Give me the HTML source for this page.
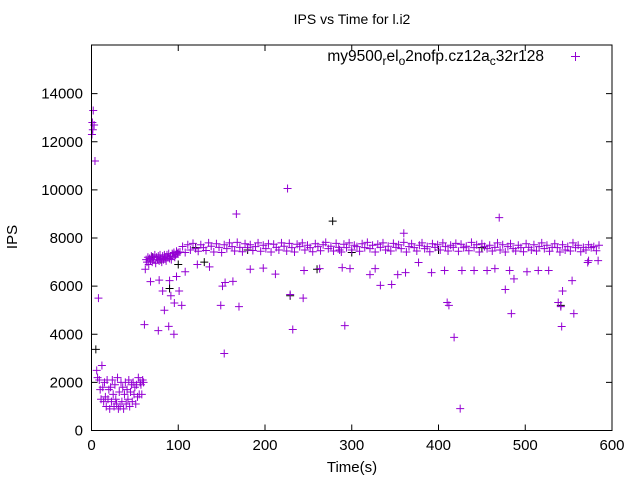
<!DOCTYPE html>
<html><head><meta charset="utf-8"><style>
html,body{margin:0;padding:0;background:#fff;}
svg{display:block;font-family:"Liberation Sans",sans-serif;}
</style></head><body>
<svg id="chart" width="640" height="480" viewBox="0 0 640 480">
<rect width="640" height="480" fill="#fff"/>
<text x="352" y="24" font-size="14" text-anchor="middle">IPS vs Time for l.i2</text>
<text x="0" y="0" font-size="15" text-anchor="middle" transform="translate(17,237) rotate(-90)">IPS</text>
<text x="352" y="472" font-size="15" text-anchor="middle">Time(s)</text>
<g id="ticks"></g>
<g id="marks"></g>
<rect x="91.5" y="45" width="520.5" height="385.5" fill="none" stroke="#000" stroke-width="1"/>
<g>
<text x="544" y="61" font-size="15.5" text-anchor="end">my9500<tspan font-size="12" dy="4">r</tspan><tspan dy="-4">el</tspan><tspan font-size="12" dy="4">o</tspan><tspan dy="-4">2nofp.cz12a</tspan><tspan font-size="12" dy="4">c</tspan><tspan dy="-4">32r128</tspan></text>
<path d="M571,56.5h9M575.5,52v9" stroke="#9400d3" stroke-width="1"/>
</g>
</svg>
<script>
const xTicks=[0,100,200,300,400,500,600];
const yTicks=[0,2000,4000,6000,8000,10000,12000,14000];
const earlyT=[0.5,1,1.5,2,3,4,8,6,7,9,10,11,12,13,14,15,16,17,18,19,20,21,22,23,24,25,26,27,28,29,30,31,32,33,34,35,36,37,38,39,40,41,42,43,44,45,46,47,48,49,50,51,52,53,54,55,56,57,58,59,60];
const earlyV=[12300,12800,12500,13300,12700,11200,5500,2500,2200,2100,1700,1300,2700,1800,1200,2000,1400,1000,2100,1300,1700,900,1800,1200,2100,1500,1000,1900,1300,1100,2200,900,1600,1000,2000,1200,1800,900,1500,2000,1100,1700,1300,2100,1000,1600,1900,1200,2000,1500,1800,1100,1900,1400,2200,1500,2000,1900,1500,2100,2000];
const rampT=[62,63,64,65,66,67,68,69,70,71,72,73,74,75,76,77,78,79,80,81,82,83,84,85,86,87,88,89,90,91,92,93,94,95,96,97,98,99,100];
const rampV=[6700,7100,7000,7200,6900,7150,7050,7250,7000,7200,7100,7300,6950,7200,7100,7250,7050,7300,7150,7000,7250,7100,7300,7200,7050,7300,7200,7350,7150,7250,7100,7350,7250,7400,7200,7300,7450,7350,7400];
const bandT=[102,105,108,111,114,117,120,123,126,129,132,135,138,141,144,147,150,153,156,159,162,165,168,171,174,177,180,183,186,189,192,195,198,201,204,207,210,213,216,219,222,225,228,231,234,237,240,243,246,249,252,255,258,261,264,267,270,273,276,279,282,285,288,291,294,297,300,303,306,309,312,315,318,321,324,327,330,333,336,339,342,345,348,351,354,357,360,363,366,369,372,375,378,381,384,387,390,393,396,399,402,405,408,411,414,417,420,423,426,429,432,435,438,441,444,447,450,453,456,459,462,465,468,471,474,477,480,483,486,489,492,495,498,501,504,507,510,513,516,519,522,525,528,531,534,537,540,543,546,549,552,555,558,561,564,567,570,573,576,579,582,585];
const bandV=[7420,7650,7400,7720,7500,7780,7560,7450,7720,7600,7480,7800,7660,7420,7760,7610,7400,7720,7560,7800,7640,7460,7820,7610,7430,7760,7600,7720,7480,7640,7800,7450,7700,7560,7760,7420,7740,7610,7500,7800,7660,7460,7780,7600,7420,7740,7640,7800,7500,7700,7600,7430,7760,7640,7470,7720,7820,7560,7660,7460,7780,7610,7420,7740,7600,7800,7500,7700,7640,7450,7760,7600,7820,7560,7700,7420,7740,7610,7800,7500,7660,7460,7780,7610,7720,7560,7820,7420,7640,7760,7600,7460,7700,7800,7560,7640,7430,7760,7610,7720,7500,7800,7640,7460,7700,7610,7780,7450,7740,7600,7660,7470,7820,7600,7720,7420,7760,7640,7560,7700,7460,7610,7800,7500,7720,7420,7640,7760,7560,7460,7700,7600,7430,7760,7610,7500,7720,7460,7640,7800,7560,7700,7450,7610,7760,7600,7420,7720,7500,7640,7460,7800,7600,7700,7430,7610,7500,7720,7600,7640,7470,7700];
const outT=[61,68,78,82,84,77,89,95,90,91.5,95.5,98,101,104,108,122,136,149,151,154,163,153,167,170,183,198,212,226,229,232,244,245,263,286,292,289,298,321,327,333,346,353,360,362,377,392,407,410,412,418,425,427,441,456,465,470,477,482,484,487,502,515,527,538,541,543,542,554,556,572,573,584];
const outV=[4400,6190,6250,5800,5000,4150,4330,4000,6230,5600,5300,6400,5800,5200,6600,6900,6800,5200,6000,6150,6200,3200,9000,5150,6700,6750,6500,10060,5650,4200,5500,6650,6730,7500,4360,6770,6730,6480,6730,6030,6070,6480,8200,6560,6980,6560,6650,5320,5200,3870,910,6650,6650,6650,6730,8850,5860,6650,4860,6300,6600,6650,6650,5320,5150,5800,4320,6230,4860,6980,7060,7060];
const blackT=[5,70,80,90,100,120,130,180,229,260,278,300,400,450,541];
const blackV=[3370,7200,7100,5900,6900,7600,7000,7500,5600,6700,8700,7400,7500,7600,5200];

const X=t=>91.5+t*0.8675;
const Y=v=>430.5-v*0.02406;
const NS='http://www.w3.org/2000/svg';
const tg=document.getElementById('ticks');
const mg=document.getElementById('marks');
xTicks.forEach(t=>{
  const x=X(t);
  const p=document.createElementNS(NS,'path');
  p.setAttribute('d',`M${x},430.5v-6M${x},45v6`);
  p.setAttribute('stroke','#000');
  
  
  tg.appendChild(p);
  const l=document.createElementNS(NS,'text');
  l.setAttribute('x',x);l.setAttribute('y',450);
  l.setAttribute('font-size','15');l.setAttribute('text-anchor','middle');
  
  
  l.textContent=t;tg.appendChild(l);
});
yTicks.forEach(v=>{
  const y=Y(v);
  const p=document.createElementNS(NS,'path');
  p.setAttribute('d',`M91.5,${y}h6M612,${y}h-6`);
  p.setAttribute('stroke','#000');
  
  
  tg.appendChild(p);
  const l=document.createElementNS(NS,'text');
  l.setAttribute('x',83);l.setAttribute('y',y+5);
  l.setAttribute('font-size','15');l.setAttribute('text-anchor','end');
  
  
  l.textContent=v;tg.appendChild(l);
});
function plot(ts,vs,color,name){
  let d='';
  for(let i=0;i<ts.length;i++){
    const x=X(ts[i]),y=Y(vs[i]);
    d+=`M${x-4},${y}h8M${x},${y-4}v8`;
  }
  const p=document.createElementNS(NS,'path');
  p.setAttribute('d',d);
  p.setAttribute('stroke',color);
  p.setAttribute('stroke-width','1');
  p.setAttribute('fill','none');
  
  
  mg.appendChild(p);
}
plot(blackT,blackV,'#000','black-series-points');
plot(earlyT,earlyV,'#9400d3','early-points');
plot(rampT,rampV,'#9400d3','ramp-points');
plot(bandT,bandV,'#9400d3','steady-band-points');
plot(outT,outV,'#9400d3','outlier-points');
</script>
</body></html>
